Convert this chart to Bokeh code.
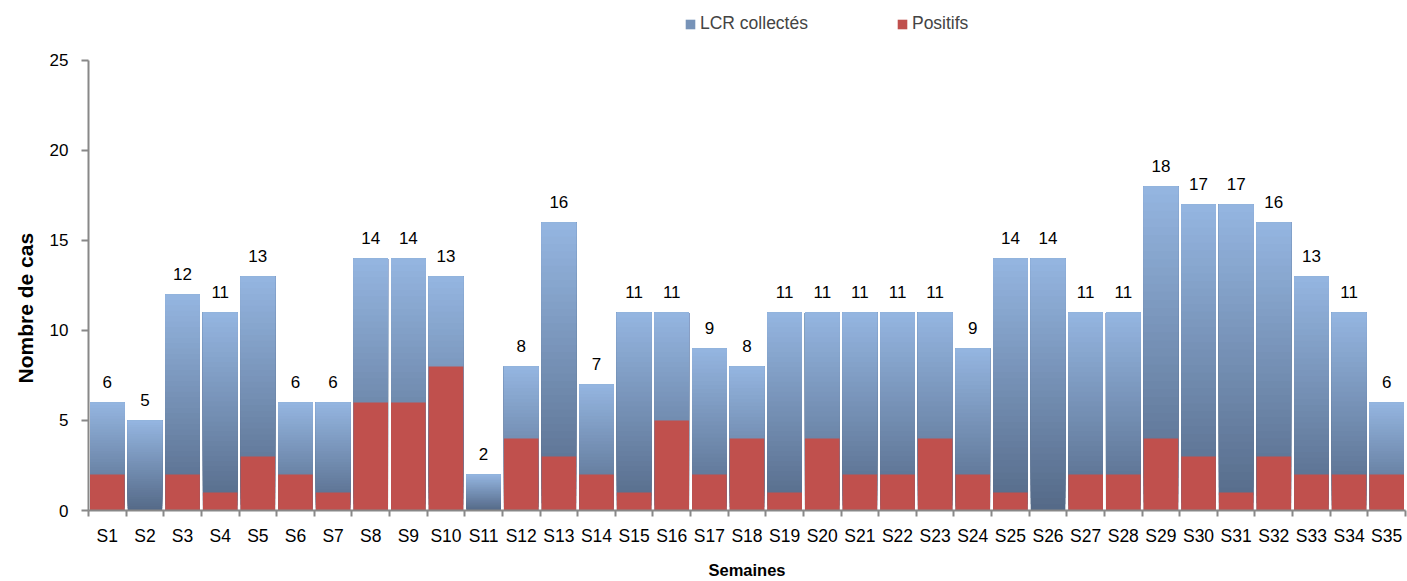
from bokeh.plotting import figure
from bokeh.models import Range1d, FixedTicker, Legend, LegendItem, ColumnDataSource, Title
from bokeh.core.properties import value
from bokeh.embed import file_html
from bokeh.resources import INLINE

weeks = [f"S{i}" for i in range(1, 36)]
lcr_collectes = [6, 5, 12, 11, 13, 6, 6, 14, 14, 13, 2, 8, 16, 7, 11, 11, 9, 8, 11, 11,
                 11, 11, 11, 9, 14, 14, 11, 11, 18, 17, 17, 16, 13, 11, 6]
positifs = [2, 0, 2, 1, 3, 2, 1, 6, 6, 8, 0, 4, 3, 2, 1, 5, 2, 4, 1, 4,
            2, 2, 4, 2, 1, 0, 2, 2, 4, 3, 1, 3, 2, 2, 2]
y_ticks = [0, 5, 10, 15, 20, 25]

FONT = "Liberation Sans"
BAR_W = 0.92
TOP_C = (0x94, 0xB5, 0xE0)
BOT_C = (0x55, 0x6A, 0x88)
AX_C = "#888888"

p = figure(width=1407, height=581, output_backend="svg", toolbar_location=None,
           x_range=Range1d(0.5, 35.5), y_range=Range1d(0, 28.33),
           min_border_left=88, min_border_right=2, min_border_top=0, min_border_bottom=71)
p.outline_line_color = None
p.xgrid.visible = False
p.ygrid.visible = False

xs = list(range(1, len(weeks) + 1))

# gradient blue bars: layered slices, each running from its start up to the bar top
N = 40
left, right, bottom, top, colors = [], [], [], [], []
for x, v in zip(xs, lcr_collectes):
    for k in range(N):
        t = k / (N - 1)
        c = tuple(int(round(BOT_C[j] + (TOP_C[j] - BOT_C[j]) * t)) for j in range(3))
        left.append(x - BAR_W / 2)
        right.append(x + BAR_W / 2)
        bottom.append(v * k / N)
        top.append(v)
        colors.append("#%02x%02x%02x" % c)
blue_src = ColumnDataSource(dict(left=left, right=right, bottom=bottom, top=top, color=colors))
p.quad(left="left", right="right", bottom="bottom", top="top", fill_color="color",
       line_color=None, source=blue_src)

red_src = ColumnDataSource(dict(x=xs, top=positifs))
p.vbar(x="x", top="top", bottom=0, width=BAR_W, fill_color="#C0504D",
       line_color=None, source=red_src)

lab_src = ColumnDataSource(dict(x=xs, y=lcr_collectes, t=[str(v) for v in lcr_collectes]))
p.text(x="x", y="y", text="t", source=lab_src, text_align="center", text_baseline="alphabetic",
       y_offset=-20, text_font=value(FONT), text_font_size="17px", text_color="#000000")

# legend proxies (outside the visible range)
leg_blue = p.quad(left=[-3], right=[-2], bottom=[-3], top=[-2], fill_color="#7793B8",
                  line_color=None)
leg_red = p.quad(left=[-3], right=[-2], bottom=[-3], top=[-2], fill_color="#C0504D",
                 line_color=None)
legend = Legend(items=[LegendItem(label="LCR collectés", renderers=[leg_blue]),
                       LegendItem(label="Positifs", renderers=[leg_red])],
                orientation="horizontal", location=(596, 476),
                label_text_font=FONT, label_text_font_size="17.5px",
                glyph_width=12, glyph_height=12, spacing=88, label_standoff=4,
                border_line_color=None, background_fill_alpha=0, padding=0, margin=0)
p.add_layout(legend, "center")

# axes
ax = p.xaxis[0]
ax.ticker = FixedTicker(ticks=xs, minor_ticks=[x + 0.5 for x in range(0, 36)])
ax.major_label_overrides = {x: w for x, w in zip(xs, weeks)}
ax.major_tick_line_color = None
ax.major_tick_in = 0
ax.major_tick_out = 6
ax.minor_tick_in = 0
ax.minor_tick_out = 6
ax.minor_tick_line_color = AX_C
ax.minor_tick_line_width = 2
ax.axis_line_color = AX_C
ax.axis_line_width = 2
ax.major_label_text_font = FONT
ax.major_label_text_font_size = "17.5px"
ax.major_label_text_color = "#000000"
ax.major_label_standoff = 9
ax.axis_label = "Semaines"
ax.axis_label_text_font = FONT
ax.axis_label_text_font_style = "bold"
ax.axis_label_text_font_size = "16.5px"
ax.axis_label_text_color = "#000000"
ax.axis_label_standoff = 12

ay = p.yaxis[0]
ay.ticker = FixedTicker(ticks=y_ticks)
ay.bounds = (0, 25)
ay.minor_tick_line_color = None
ay.major_tick_in = 0
ay.major_tick_out = 7
ay.major_tick_line_color = AX_C
ay.major_tick_line_width = 2
ay.axis_line_color = AX_C
ay.axis_line_width = 2
ay.major_label_text_font = FONT
ay.major_label_text_font_size = "17px"
ay.major_label_text_color = "#000000"
ay.major_label_standoff = 13

ytitle = Title(text="Nombre de cas", align="left", offset=127, text_font=FONT,
               text_font_style="bold", text_font_size="21px", text_color="#000000",
               standoff=20)
p.add_layout(ytitle, "left")

open("out.html", "w").write(file_html(p, INLINE))
